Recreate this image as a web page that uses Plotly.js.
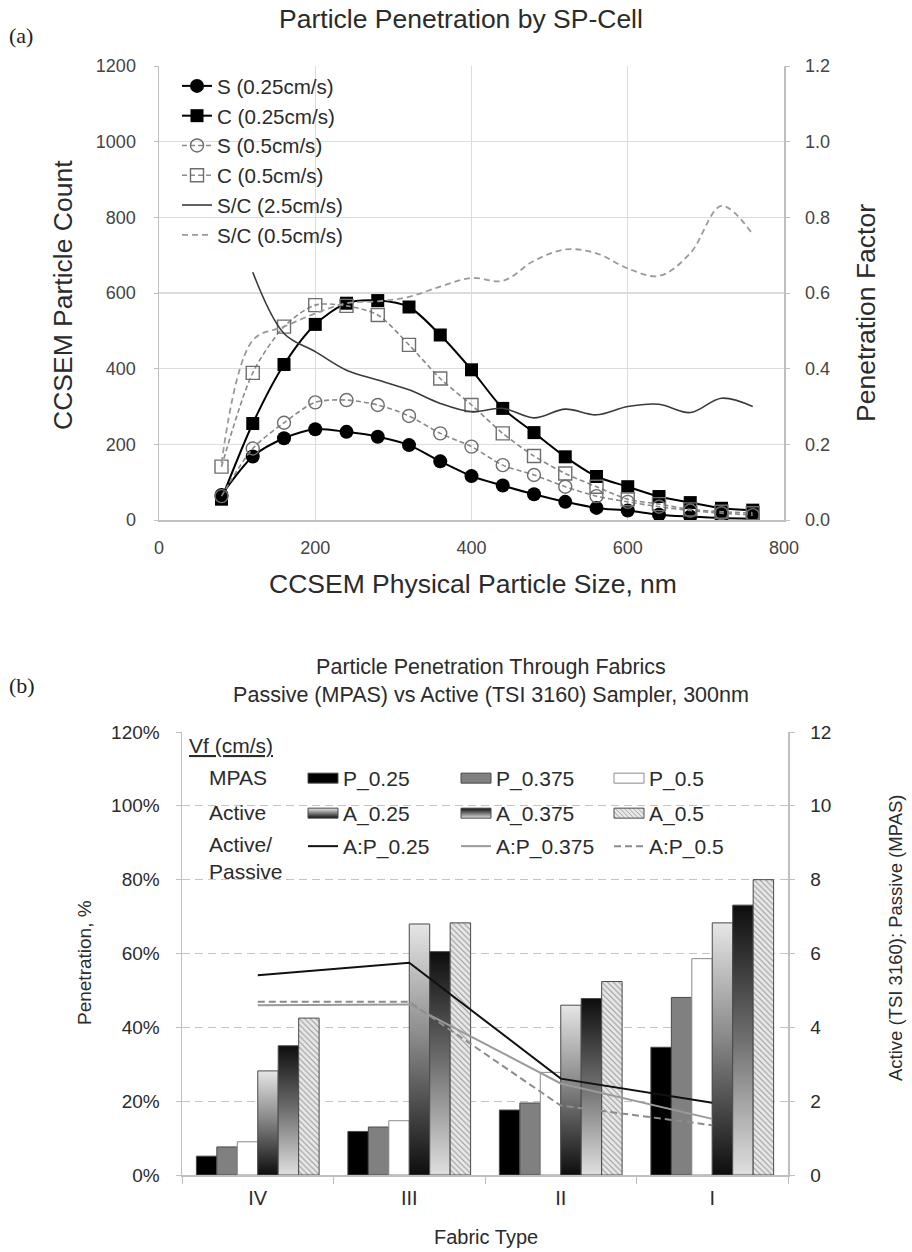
<!DOCTYPE html>
<html><head><meta charset="utf-8">
<script src="https://cdn.plot.ly/plotly-3.0.1.min.js"></script>
<style>body{margin:0;background:#fff;} .chart{width:912px;}</style>
</head><body>
<div id="ca" class="chart" style="height:625px"></div>
<div id="cb" class="chart" style="height:627px"></div>
<script>
// ---------- Chart (a) data ----------
const sizeNm = [80,120,160,200,240,280,320,360,400,440,480,520,560,600,640,680,720,760];
const S_025 = [66,168,216,240,233,220,198,155,116,91,68,48,32,25,14,9,5,3];
const C_025 = [55,255,411,517,573,580,563,489,397,295,231,167,115,88,62,46,31,26];
const S_05  = [63,189,257,311,317,304,275,229,194,145,119,88,63,48,35,25,18,13];
const C_05  = [141,389,511,568,566,542,463,374,304,229,169,123,88,55,42,28,22,18];
const sizeNm25 = [120,160,200,240,280,320,360,400,440,480,520,560,600,640,680,720,760];
const SC_25 = [0.655,0.493,0.445,0.396,0.370,0.344,0.308,0.286,0.295,0.270,0.293,0.278,0.300,0.306,0.284,0.322,0.300];
const SC_05 = [0.150,0.475,0.511,0.546,0.573,0.578,0.590,0.617,0.640,0.632,0.685,0.715,0.705,0.665,0.645,0.705,0.830,0.755];

// ---------- Chart (b) data ----------
const fabric = ['IV','III','II','I'];
const P_025  = [0.051,0.118,0.176,0.346];
const P_0375 = [0.076,0.130,0.195,0.481];
const P_05   = [0.090,0.147,0.278,0.586];
const A_025  = [0.282,0.680,0.460,0.683];
const A_0375 = [0.350,0.605,0.478,0.731];
const A_05   = [0.425,0.683,0.524,0.800];
const AP_025  = [5.41,5.75,2.61,1.96];
const AP_0375 = [4.60,4.62,2.48,1.52];
const AP_05   = [4.69,4.69,1.88,1.35];

const FONT = '"Liberation Sans", Arial, sans-serif';
const SERIF = '"Liberation Serif", "Times New Roman", serif';
const TXT = '#2b2b2b', TICK = '#444', AXL = '#bfbfbf';

// ---------- Chart (a) ----------
(function(){
  const L=159, R=784, T=66, B=520, H=625;
  const px = x => (x-L)/(R-L), py = y => (B-y)/(B-T);
  const sp = {shape:'spline', smoothing:0.8};
  const traces = [
    {x:sizeNm, y:S_025, name:'S (0.25cm/s)', mode:'lines+markers', line:Object.assign({color:'#000',width:2},sp), marker:{symbol:'circle',size:14,color:'#000'}},
    {x:sizeNm, y:C_025, name:'C (0.25cm/s)', mode:'lines+markers', line:Object.assign({color:'#000',width:2},sp), marker:{symbol:'square',size:13,color:'#000'}},
    {x:sizeNm, y:S_05, name:'S (0.5cm/s)', mode:'lines+markers', line:Object.assign({color:'#8a8a8a',width:1.6,dash:'5px,3px'},sp), marker:{symbol:'circle-open',size:13,color:'#6e6e6e',line:{width:1.4}}},
    {x:sizeNm, y:C_05, name:'C (0.5cm/s)', mode:'lines+markers', line:Object.assign({color:'#8a8a8a',width:1.6,dash:'5px,3px'},sp), marker:{symbol:'square-open',size:13,color:'#6e6e6e',line:{width:1.4}}},
    {x:sizeNm25, y:SC_25, name:'S/C (2.5cm/s)', yaxis:'y2', mode:'lines', line:{color:'#3a3a3a',width:1.6,shape:'spline',smoothing:1}},
    {x:sizeNm, y:SC_05, name:'S/C (0.5cm/s)', yaxis:'y2', mode:'lines', line:{color:'#9a9a9a',width:1.8,dash:'6px,4px',shape:'spline',smoothing:1}}
  ];
  const layout = {
    width:912, height:H, margin:{l:L, r:912-R, t:T, b:H-B}, paper_bgcolor:'#fff', plot_bgcolor:'#fff',
    font:{family:FONT, color:TXT},
    showlegend:true,
    title:{text:'Particle Penetration by SP-Cell', font:{size:26.5,color:TXT}, x:461/912, xanchor:'center', xref:'container', y:1-19/H, yanchor:'middle', yref:'container'},
    xaxis:{range:[0,800], dtick:200, showgrid:true, gridcolor:'#dcdcdc', gridwidth:1.2, showline:true, linecolor:AXL, linewidth:1.5, zeroline:false, ticks:'', tickfont:{size:18,color:TICK}, ticklabelstandoff:11},
    yaxis:{range:[0,1200], dtick:200, showgrid:true, gridcolor:'#dcdcdc', gridwidth:1.2, showline:true, linecolor:AXL, linewidth:1.5, zeroline:false, ticks:'outside', ticklen:4, tickcolor:AXL, tickfont:{size:18,color:TICK}, ticklabelstandoff:14},
    yaxis2:{range:[0,1.2], dtick:0.2, tickformat:'.1f', overlaying:'y', side:'right', showgrid:false, showline:true, linecolor:AXL, linewidth:1.5, zeroline:false, ticks:'outside', ticklen:4, tickcolor:AXL, tickfont:{size:18,color:TICK}, ticklabelstandoff:12},
    legend:{x:px(177), xanchor:'left', y:1, yanchor:'top', bgcolor:'rgba(0,0,0,0)', font:{size:20.6,color:TXT}, tracegroupgap:0},
    annotations:[
      {text:'(a)', xref:'paper', yref:'paper', x:px(7), y:py(35), xanchor:'left', yanchor:'middle', showarrow:false, font:{family:SERIF,size:22,color:'#222'}},
      {text:'CCSEM Particle Count', xref:'paper', yref:'paper', x:px(63), y:py(295), textangle:-90, xanchor:'center', yanchor:'middle', showarrow:false, font:{size:26.5,color:TXT}},
      {text:'Penetration Factor', xref:'paper', yref:'paper', x:px(866), y:py(313), textangle:-90, xanchor:'center', yanchor:'middle', showarrow:false, font:{size:26.5,color:TXT}},
      {text:'CCSEM Physical Particle Size, nm', xref:'paper', yref:'paper', x:px(473), y:py(584), xanchor:'center', yanchor:'middle', showarrow:false, font:{size:26.5,color:TXT}}
    ]
  };
  Plotly.newPlot('ca', traces, layout, {staticPlot:true, displayModeBar:false});
})();

// ---------- Chart (b) ----------
(function(){
  const L=182, R=788, T=732-625, B=1175-625, H=627;
  const px = x => (x-L)/(R-L), py = y => (B-(y-625))/(B-T);
  const barLine = {color:'#4a4a4a', width:1};
  const barNames = ['P_0.25','P_0.375','P_0.5','A_0.25','A_0.375','A_0.5'];
  const traces = [
    {type:'bar', x:fabric, y:P_025, name:'P_0.25', legend:'legend', marker:{color:'#000', line:barLine}},
    {type:'bar', x:fabric, y:P_0375, name:'P_0.375', legend:'legend', marker:{color:'#808080', line:barLine}},
    {type:'bar', x:fabric, y:P_05, name:'P_0.5', legend:'legend', marker:{color:'#fff', line:{color:'#8a8a8a',width:1}}},
    {type:'bar', x:fabric, y:A_025, name:'A_0.25', legend:'legend2', marker:{color:'#888', line:barLine}},
    {type:'bar', x:fabric, y:A_0375, name:'A_0.375', legend:'legend2', marker:{color:'#555', line:barLine}},
    {type:'bar', x:fabric, y:A_05, name:'A_0.5', legend:'legend2', marker:{color:'#e4e4e4', line:barLine, pattern:{shape:'\\', fgcolor:'#9a9a9a', bgcolor:'#e8e8e8', size:4, solidity:0.28}}},
    {type:'scatter', mode:'lines', x:fabric, y:AP_025, name:'A:P_0.25', legend:'legend3', yaxis:'y2', line:{color:'#111', width:2}},
    {type:'scatter', mode:'lines', x:fabric, y:AP_0375, name:'A:P_0.375', legend:'legend3', yaxis:'y2', line:{color:'#9a9a9a', width:2}},
    {type:'scatter', mode:'lines', x:fabric, y:AP_05, name:'A:P_0.5', legend:'legend3', yaxis:'y2', line:{color:'#8c8c8c', width:2, dash:'7px,4px'}}
  ];
  const legBase = {orientation:'h', xanchor:'left', yanchor:'top', bgcolor:'rgba(0,0,0,0)', font:{size:21,color:TXT}, entrywidth:108, entrywidthmode:'pixels', x:px(303)};
  const layout = {
    width:912, height:H, margin:{l:L, r:912-R, t:T, b:H-B}, paper_bgcolor:'#fff', plot_bgcolor:'#fff',
    font:{family:FONT, color:TXT},
    barmode:'group', bargap:0.19, bargroupgap:0,
    showlegend:true,
    title:{text:'Particle Penetration Through Fabrics<br>Passive (MPAS) vs Active (TSI 3160) Sampler, 300nm', font:{size:21.5,color:TXT}, x:491/912, xanchor:'center', xref:'container', y:1-49/H, yanchor:'middle', yref:'container'},
    xaxis:{type:'category', tickson:'boundaries', ticks:'outside', ticklen:7, tickcolor:AXL, showline:true, linecolor:AXL, linewidth:1.5, showgrid:false, tickfont:{size:20,color:TXT}, ticklabelstandoff:4},
    yaxis:{range:[0,1.2], dtick:0.2, tickformat:'.0%', showgrid:true, gridcolor:'#c4c4c4', gridwidth:1.3, griddash:'8px,5px', showline:true, linecolor:AXL, linewidth:1.5, zeroline:false, ticks:'outside', ticklen:5, tickcolor:AXL, tickfont:{size:19,color:TXT}, ticklabelstandoff:12},
    yaxis2:{range:[0,12], dtick:2, overlaying:'y', side:'right', showgrid:false, showline:true, linecolor:AXL, linewidth:1.5, zeroline:false, ticks:'outside', ticklen:5, tickcolor:AXL, tickfont:{size:19,color:TXT}, ticklabelstandoff:12},
    legend:Object.assign({}, legBase, {y:(B-(777-625-19))/(B-T)}),
    legend2:Object.assign({}, legBase, {y:(B-(812-625-19))/(B-T)}),
    legend3:Object.assign({}, legBase, {y:(B-(845-625-19))/(B-T)}),
    annotations:[
      {text:'(b)', xref:'paper', yref:'paper', x:px(7), y:py(686), xanchor:'left', yanchor:'middle', showarrow:false, font:{family:SERIF,size:22,color:'#222'}},
      {text:'<u>Vf (cm/s)</u>', xref:'paper', yref:'paper', x:px(187), y:py(746), xanchor:'left', yanchor:'middle', showarrow:false, font:{size:21,color:TXT}},
      {text:'MPAS', xref:'paper', yref:'paper', x:px(207), y:py(777), xanchor:'left', yanchor:'middle', showarrow:false, font:{size:21,color:TXT}},
      {text:'Active', xref:'paper', yref:'paper', x:px(207), y:py(812), xanchor:'left', yanchor:'middle', showarrow:false, font:{size:21,color:TXT}},
      {text:'Active/<br>Passive', xref:'paper', yref:'paper', x:px(207), y:py(858), xanchor:'left', yanchor:'middle', align:'left', showarrow:false, font:{size:21,color:TXT}},
      {text:'Penetration, %', xref:'paper', yref:'paper', x:px(84), y:py(963), textangle:-90, xanchor:'center', yanchor:'middle', showarrow:false, font:{size:19,color:TXT}},
      {text:'Active (TSI 3160): Passive (MPAS)', xref:'paper', yref:'paper', x:px(895), y:py(938), textangle:-90, xanchor:'center', yanchor:'middle', showarrow:false, font:{size:18.5,color:TXT}},
      {text:'Fabric Type', xref:'paper', yref:'paper', x:px(486), y:py(1237), xanchor:'center', yanchor:'middle', showarrow:false, font:{size:20,color:TXT}}
    ]
  };
  const fills = {'A_0.25':'url(#gradA025)', 'A_0.375':'url(#gradA0375)'};
  const SW = 'M15,5H-15V-5H15Z';
  function nameOf(node){
    const tr = node.closest ? node.closest('g.traces') : null;
    let d = node.__data__;
    if(!(d && d[0] && d[0].trace) && tr) d = tr.__data__;
    if(d && d[0] && d[0].trace && d[0].trace.name) return d[0].trace.name;
    if(tr){ const t = tr.querySelector('text.legendtext'); if(t) return t.textContent.trim(); }
    return null;
  }
  function restyleSvg(gd){
    try {
      const ns='http://www.w3.org/2000/svg';
      const svg = gd.querySelector('svg.main-svg');
      if(!svg) return;
      let defs = svg.querySelector('defs');
      if(!defs){ defs=document.createElementNS(ns,'defs'); svg.insertBefore(defs, svg.firstChild); }
      function grad(id, stops){
        if(document.getElementById(id)) return;
        const g=document.createElementNS(ns,'linearGradient');
        g.setAttribute('id',id); g.setAttribute('x1','0'); g.setAttribute('y1','0'); g.setAttribute('x2','0'); g.setAttribute('y2','1');
        stops.forEach(function(s){ const st=document.createElementNS(ns,'stop'); st.setAttribute('offset',s[0]); st.setAttribute('stop-color',s[1]); g.appendChild(st); });
        defs.appendChild(g);
      }
      grad('gradA025', [[0,'#e6e6e6'],[0.45,'#8a8a8a'],[1,'#0d0d0d']]);
      grad('gradA0375', [[0,'#0d0d0d'],[0.5,'#707070'],[1,'#e0e0e0']]);
      gd.querySelectorAll('g.barlayer g.trace.bars').forEach(function(t, i){
        const name = barNames[i];
        if(fills[name]) t.querySelectorAll('path').forEach(function(p){ if((p.style.fill||'').indexOf('grad')<0) p.style.fill = fills[name]; });
      });
      gd.querySelectorAll('g.legendpoints path').forEach(function(bp){
        const name = nameOf(bp);
        if(name && barNames.indexOf(name) < 0) return;
        if(bp.getAttribute('d') !== SW) bp.setAttribute('d', SW);
        if(name && fills[name] && (bp.style.fill||'').indexOf('grad')<0) bp.style.fill = fills[name];
      });
    } catch(e) {}
  }
  const host = document.getElementById('cb');
  const obs = new MutationObserver(function(){ restyleSvg(host); });
  obs.observe(host, {childList:true, subtree:true, attributes:true, attributeFilter:['d','style']});
  Plotly.newPlot('cb', traces, layout, {staticPlot:true, displayModeBar:false}).then(function(gd){
    restyleSvg(gd);
    setTimeout(function(){ restyleSvg(gd); }, 30);
    setTimeout(function(){ restyleSvg(gd); }, 250);
  });
})();
</script>
</body></html>
